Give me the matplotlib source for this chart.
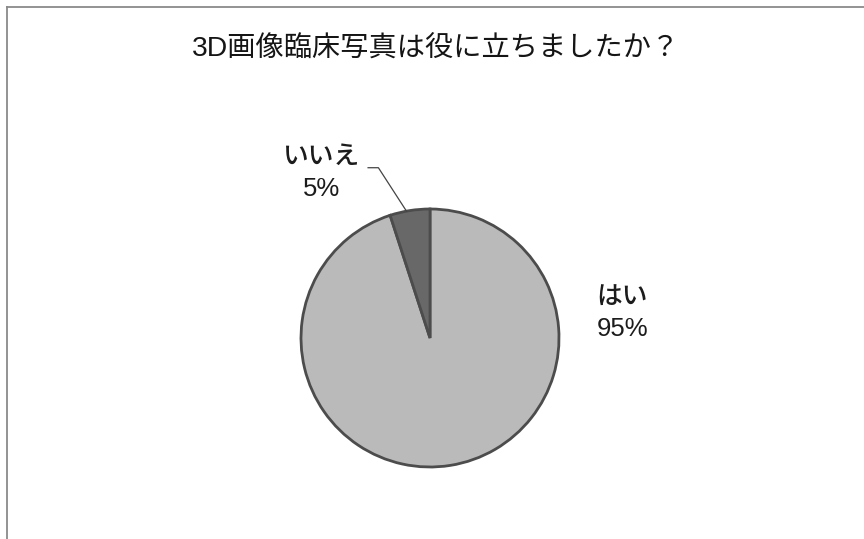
import numpy as np
import matplotlib.pyplot as plt
from matplotlib.lines import Line2D

plt.rcParams['font.family'] = ['Liberation Sans', 'Noto Sans CJK JP', 'DejaVu Sans']

title = "3D画像臨床写真は役に立ちましたか？"
labels = ["はい", "いいえ"]
values = [95, 5]
colors = ["#bababa", "#686868"]

W, H = 864, 539
fig = plt.figure(figsize=(W / 100, H / 100), dpi=100)
fig.patch.set_facecolor("white")

# frame (top and left edges only)
fig.add_artist(Line2D([7 / W, 1], [1 - 7 / H, 1 - 7 / H], color="#8a8a8a", lw=1.3))
fig.add_artist(Line2D([7 / W, 7 / W], [0, 1 - 7 / H], color="#8a8a8a", lw=1.3))

fig.text(436 / W, 1 - 50 / H, title, ha="center", va="center", fontsize=20.3,
         color="#151515")

# pie axes: centre (430, 338), radius 129 px
cx, cy, r = 430, 338, 129
ax = fig.add_axes([(cx - r) / W, (H - cy - r) / H, 2 * r / W, 2 * r / H])
wedges, _ = ax.pie(values, colors=colors, startangle=90, counterclock=False,
                   radius=1.0, wedgeprops=dict(edgecolor="#4c4c4c", linewidth=2.0))
ax.set_xlim(-1, 1)
ax.set_ylim(-1, 1)
ax.set_aspect("equal")
ax.axis("off")

total = sum(values)
pct = [f"{round(v * 100 / total)}%" for v in values]

# はい label on the right
ax.text(1.49, 0.19, f"{labels[0]}\n{pct[0]}", ha="center", va="center",
        fontsize=18.5, linespacing=1.4, fontweight="medium", color="#1c1c1c",
        clip_on=False)

# いいえ label with leader line
w = wedges[1]
mid = np.deg2rad((w.theta1 + w.theta2) / 2 + 1.5)
px, py = np.cos(mid), np.sin(mid)
tx, ty = -0.84, 1.28
ax.text(tx, ty, f"{labels[1]}\n{pct[1]}", ha="center", va="center",
        fontsize=18.5, linespacing=1.4, fontweight="medium", color="#1c1c1c",
        clip_on=False)
ax.plot([tx + 0.36, tx + 0.44, px], [ty + 0.04, ty + 0.04, py], color="#444444",
        lw=0.9, clip_on=False)

fig.savefig("out.png", dpi=100)
